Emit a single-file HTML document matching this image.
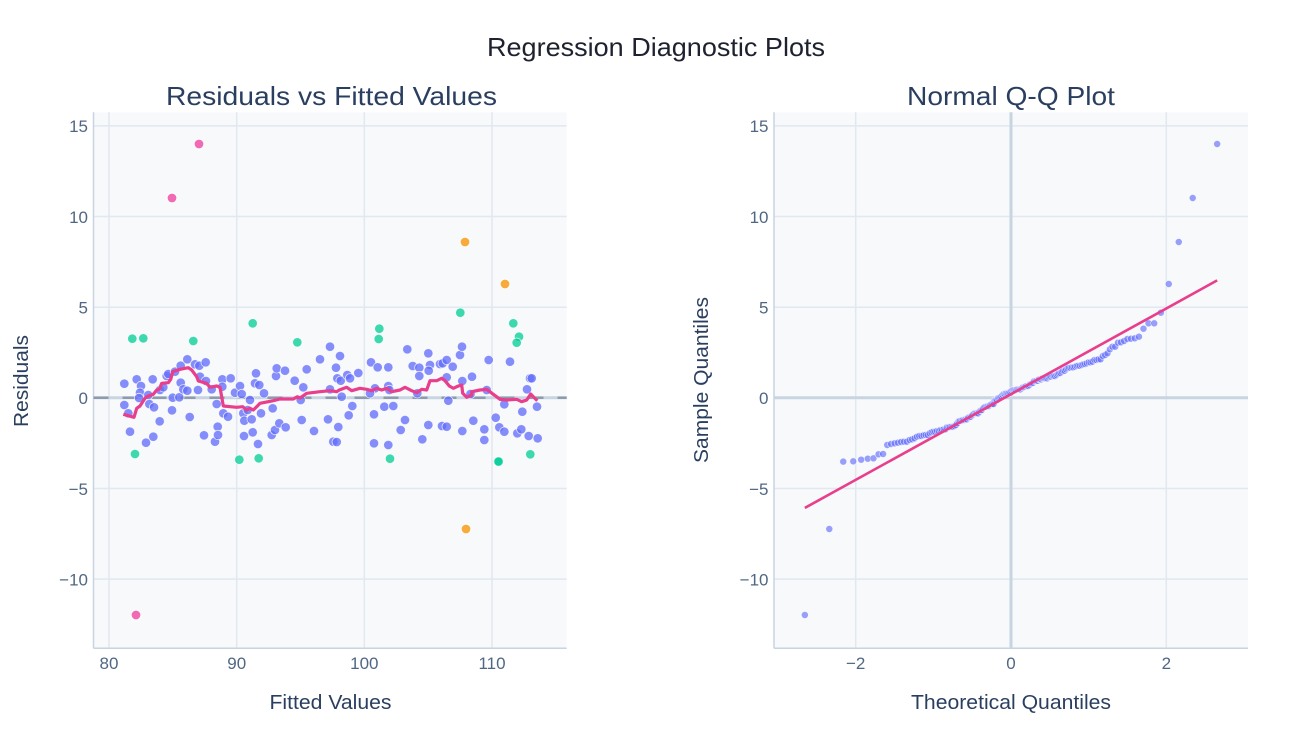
<!DOCTYPE html>
<html><head><meta charset="utf-8"><style>
html,body{margin:0;padding:0;background:#fff;}
svg{display:block;}
text{font-family:"Liberation Sans",Arial,sans-serif;}
</style></head><body>
<svg id="s" width="1312" height="736" viewBox="0 0 1312 736" xmlns="http://www.w3.org/2000/svg">
<rect width="1312" height="736" fill="#fff"/>
<rect x="93.5" y="112.3" width="473.2" height="536" fill="#f8f9fb"/>
<rect x="774" y="112.3" width="474" height="536" fill="#f8f9fb"/>
<g stroke="#e2e8f0" stroke-width="1.5" fill="none">
  <line x1="109" y1="112.3" x2="109" y2="648.3"/>
  <line x1="236.7" y1="112.3" x2="236.7" y2="648.3"/>
  <line x1="364.3" y1="112.3" x2="364.3" y2="648.3"/>
  <line x1="492" y1="112.3" x2="492" y2="648.3"/>
  <line x1="93.5" y1="125.9" x2="566.7" y2="125.9"/>
  <line x1="93.5" y1="216.5" x2="566.7" y2="216.5"/>
  <line x1="93.5" y1="307.2" x2="566.7" y2="307.2"/>
  <line x1="93.5" y1="488.5" x2="566.7" y2="488.5"/>
  <line x1="93.5" y1="579.1" x2="566.7" y2="579.1"/>
  <line x1="855.7" y1="112.3" x2="855.7" y2="648.3"/>
  <line x1="1166.3" y1="112.3" x2="1166.3" y2="648.3"/>
  <line x1="774" y1="125.9" x2="1248" y2="125.9"/>
  <line x1="774" y1="216.5" x2="1248" y2="216.5"/>
  <line x1="774" y1="307.2" x2="1248" y2="307.2"/>
  <line x1="774" y1="488.5" x2="1248" y2="488.5"/>
  <line x1="774" y1="579.1" x2="1248" y2="579.1"/>
</g>
<g stroke="#c9d4e2" stroke-width="3" fill="none">
  <line x1="93.5" y1="397.8" x2="566.7" y2="397.8"/>
  <line x1="774" y1="397.8" x2="1248" y2="397.8"/>
  <line x1="1011" y1="112.3" x2="1011" y2="648.3"/>
</g>
<g stroke="#c8d4e3" stroke-width="1.5" fill="none">
  <line x1="93.5" y1="112.3" x2="93.5" y2="648.3"/>
  <line x1="93.5" y1="648.3" x2="566.7" y2="648.3"/>
  <line x1="774" y1="112.3" x2="774" y2="648.3"/>
  <line x1="774" y1="648.3" x2="1248" y2="648.3"/>
</g>
<line x1="93.5" y1="397.8" x2="566.7" y2="397.8" stroke="#8d9bad" stroke-width="2.5" stroke-dasharray="15,14"/>
<g id="pts"></g>
<g id="qq"></g>

<g font-size="17" fill="#506784">
  <g text-anchor="end">
    <text x="88" y="132.2">15</text>
    <text x="88" y="222.8">10</text>
    <text x="88" y="313.5">5</text>
    <text x="88" y="404.1">0</text>
    <text x="88" y="494.8">−5</text>
    <text x="88" y="585.4">−10</text>
    <text x="768.5" y="132.2">15</text>
    <text x="768.5" y="222.8">10</text>
    <text x="768.5" y="313.5">5</text>
    <text x="768.5" y="404.1">0</text>
    <text x="768.5" y="494.8">−5</text>
    <text x="768.5" y="585.4">−10</text>
  </g>
  <g text-anchor="middle">
    <text x="109" y="669">80</text>
    <text x="236.7" y="669">90</text>
    <text x="364.3" y="669">100</text>
    <text x="492" y="669">110</text>
    <text x="855.7" y="669">−2</text>
    <text x="1011" y="669">0</text>
    <text x="1166.3" y="669">2</text>
  </g>
</g>

<text x="656" y="56" font-size="26" fill="#1e2230" text-anchor="middle" textLength="338" lengthAdjust="spacingAndGlyphs">Regression Diagnostic Plots</text>
<text x="331.5" y="105" font-size="26" fill="#2a3f5f" text-anchor="middle" textLength="331" lengthAdjust="spacingAndGlyphs">Residuals vs Fitted Values</text>
<text x="1011" y="105" font-size="26" fill="#2a3f5f" text-anchor="middle" textLength="208" lengthAdjust="spacingAndGlyphs">Normal Q-Q Plot</text>

<text x="330.5" y="709" font-size="20" fill="#2a3f5f" text-anchor="middle" textLength="122" lengthAdjust="spacingAndGlyphs">Fitted Values</text>
<text x="1011" y="709" font-size="20" fill="#2a3f5f" text-anchor="middle" textLength="200" lengthAdjust="spacingAndGlyphs">Theoretical Quantiles</text>
<text transform="translate(28,381) rotate(-90)" font-size="20" fill="#2a3f5f" text-anchor="middle" textLength="92" lengthAdjust="spacingAndGlyphs">Residuals</text>
<text transform="translate(708,380) rotate(-90)" font-size="20" fill="#2a3f5f" text-anchor="middle" textLength="166" lengthAdjust="spacingAndGlyphs">Sample Quantiles</text>
</svg>
<script>
(function(){
var NS="http://www.w3.org/2000/svg";
function el(tag,attrs,parent){var e=document.createElementNS(NS,tag);for(var k in attrs)e.setAttribute(k,attrs[k]);parent.appendChild(e);return e;}
var Y0=397.8,SY=18.13;
var blue=[[124.3,383.7],[124.3,405],[128.3,413.3],[130,431.7],[136.7,379.3],[141,386],[140,392.7],[139,398],[146,442.7],[148.3,395],[149.3,404],[152.7,379.3],[154,407.3],[153.3,436.7],[159.7,421.3],[160,390],[163.3,387.3],[166.7,376],[168.3,374],[172,410.3],[172.7,397.7],[175,371.7],[179.3,397.3],[180.7,382.7],[180.7,365.7],[183.3,389.3],[187.3,390.7],[187.3,359.3],[189.7,417],[195,364.3],[198,390],[199.3,365.7],[200,376.7],[205.7,362.3],[206,381],[204,435.3],[211.7,389.3],[215,441.7],[216.7,404],[217.7,426.7],[218,435],[222.3,379.3],[222.3,386.7],[223.3,413.3],[228,416.7],[230.7,378.3],[235,392.7],[240,386],[241.7,394],[244,436],[243.3,413.3],[244.3,420.7],[247.7,410],[250,400],[251.7,419.3],[252.7,432.3],[256,373.3],[255,383.3],[258,444],[259.3,385],[261,413.3],[264,393.3],[271.7,435],[272.7,408.3],[275,430],[276,376],[276.7,368.3],[279.3,423.3],[285,370.7],[285.7,427.3],[294.7,380.7],[300.7,400],[301.7,420],[303.3,387.3],[306.7,369.3],[314,431],[320,359.3],
[330,346.7],[336,367.7],[337.3,378.3],[340,356],[340.7,380.7],[347.3,375],[350,378.3],[358.3,373],[330,389.3],[341.7,396.7],[352.3,406],[348.7,415.3],[328,419.3],[338.3,427],[333.3,441.7],[336.7,442],[371,362.3],[377.7,367.3],[375,388.3],[370,393.3],[374,414.3],[384.3,406.7],[393.3,406],[388.3,367.3],[388.3,386],[389.3,390],[374,443.3],[388.3,445],[400.7,430],[405,420],[407.3,349.3],[412.7,366],[419.3,367.7],[419.3,376],[417.3,393.3],[428.3,353.3],[430,365],[428.7,370.7],[428.3,425],[422.3,439.3],[440,364],[442.7,363.3],[446.7,360],[452.7,366.7],[446.7,377.3],[442,426],[446.7,426.7],[448.3,400.7],[460,355],[462,346.7],[462.3,381],[462.3,431],[472,376.7],[473.3,420.7],[484.3,429.3],[484.3,440],[488.7,360],[495.7,417.7],[499.3,427.3],[504.3,431.7],[504.3,404.3],[510,361.7],[517.3,433.3],[521.3,429.3],[522.3,411.7],[528.7,436],[527,389.3],[530,378.3],[531.7,378.3],[537,406.7],[537.7,438.3],[470.5,394],[486.7,390]];
var green=[[132.3,338.7],[143.3,338.3],[135,454],[193.3,341],[252.7,323.3],[239.3,459.7],[258.7,458.3],[297.3,342.3],[460.3,312.7],[379.3,328.7],[378.7,339],[513.3,323.3],[519,336.7],[516.7,342.7],[390,458.7],[498,461.3],[498.6,461.6],[530.3,454.3]];
var pink=[[199,144],[172,198],[136,615]];
var orange=[[465,242],[505,284],[466,529]];
var g=document.getElementById("pts");
blue.forEach(function(p){el("circle",{cx:p[0],cy:p[1],r:4.7,fill:"#636efa","fill-opacity":0.78,stroke:"#fff","stroke-width":0.8,"stroke-opacity":0.8},g);});
green.forEach(function(p){el("circle",{cx:p[0],cy:p[1],r:4.7,fill:"#00cc96","fill-opacity":0.75,stroke:"#fff","stroke-width":0.8,"stroke-opacity":0.8},g);});
pink.forEach(function(p){el("circle",{cx:p[0],cy:p[1],r:4.8,fill:"#f062b0","fill-opacity":0.95,stroke:"#fff","stroke-width":0.8},g);});
orange.forEach(function(p){el("circle",{cx:p[0],cy:p[1],r:4.8,fill:"#f8a630","fill-opacity":0.95,stroke:"#fff","stroke-width":0.8},g);});
var line=[[123.3,414.3],[134,417.3],[136.7,408.3],[140,406],[145,398.3],[146.7,396.7],[153.3,394.3],[156.7,390],[159.3,389.3],[161.7,383.3],[168.3,382.7],[170.7,379.3],[172.7,371.7],[180,369.3],[188.3,367.7],[191.7,370],[196.7,376.7],[198.3,381],[206.7,383.3],[210,387.3],[216.7,386],[220,387.3],[223.3,406],[236.7,407.3],[242.7,406.7],[246.7,410],[250,408.3],[253.3,410],[256.7,406.7],[260,403.3],[273.3,400.7],[280,399],[293.3,399],[297.3,396.7],[300,398],[306.7,393.3],[320,391.7],[330,390.7],[336.7,391.7],[339.3,390],[346.7,387.3],[351.7,390.7],[360,388.3],[366.7,389.3],[371.7,390.7],[376.7,388.3],[381.7,390],[386.7,388.3],[391.7,391.7],[400,390],[405,387.3],[411.7,390.7],[416.7,392.7],[421.7,389.3],[426.7,390],[430,380.7],[436.7,380.7],[441.7,378.3],[445,380.7],[449.3,386],[453.3,388.3],[458.3,386],[461.7,385],[462.7,393.3],[466.7,397.3],[471.7,395],[471.7,391.7],[480,390],[486.7,389.3],[493.3,394.3],[500,399.3],[506.7,400],[516.7,399.3],[521.7,401.7],[526.7,400],[530.7,394],[533.3,396.7],[537.3,400.7]];
el("polyline",{points:line.map(function(p){return p.join(",");}).join(" "),fill:"none",stroke:"#e83e8c","stroke-width":3.2,"stroke-linejoin":"round"},g);

function ppf(p){
 var a=[-3.969683028665376e+01,2.209460984245205e+02,-2.759285104469687e+02,1.383577518672690e+02,-3.066479806614716e+01,2.506628277459239e+00];
 var b=[-5.447609879822406e+01,1.615858368580409e+02,-1.556989798598866e+02,6.680131188771972e+01,-1.328068155288572e+01];
 var c=[-7.784894002430293e-03,-3.223964580411365e-01,-2.400758277161838e+00,-2.549732539343734e+00,4.374664141464968e+00,2.938163982698783e+00];
 var d=[7.784695709041462e-03,3.224671290700398e-01,2.445134137142996e+00,3.754408661907416e+00];
 var pl=0.02425,ph=1-pl,q,r;
 if(p<pl){q=Math.sqrt(-2*Math.log(p));return (((((c[0]*q+c[1])*q+c[2])*q+c[3])*q+c[4])*q+c[5])/((((d[0]*q+d[1])*q+d[2])*q+d[3])*q+1);}
 if(p<=ph){q=p-0.5;r=q*q;return (((((a[0]*r+a[1])*r+a[2])*r+a[3])*r+a[4])*r+a[5])*q/(((((b[0]*r+b[1])*r+b[2])*r+b[3])*r+b[4])*r+1);}
 q=Math.sqrt(-2*Math.log(1-p));return -(((((c[0]*q+c[1])*q+c[2])*q+c[3])*q+c[4])*q+c[5])/((((d[0]*q+d[1])*q+d[2])*q+d[3])*q+1);
}
var all=blue.concat(green,pink,orange).map(function(p){return (Y0-p[1])/SY;});
all.sort(function(x,y){return x-y;});
var n=all.length,qs=[];
var last=Math.pow(0.5,1/n);
for(var i=0;i<n;i++){var m;if(i===0)m=1-last;else if(i===n-1)m=last;else m=(i+1-0.3175)/(n+0.365);qs.push(ppf(m));}
var qg=document.getElementById("qq");
for(var j=0;j<n;j++){
  el("circle",{cx:1011+qs[j]*77.67,cy:Y0-all[j]*SY,r:3.5,fill:"#636efa","fill-opacity":0.65,stroke:"#fff","stroke-width":0.6,"stroke-opacity":0.8},qg);
}
var q0=qs[0],q1=qs[n-1];
function ly(q){return Y0-(0.2+2.364*q)*SY;}
el("line",{x1:1011+q0*77.67,y1:ly(q0),x2:1011+q1*77.67,y2:ly(q1),stroke:"#e83e8c","stroke-width":2.6},qg);
})();
</script>
</body></html>
